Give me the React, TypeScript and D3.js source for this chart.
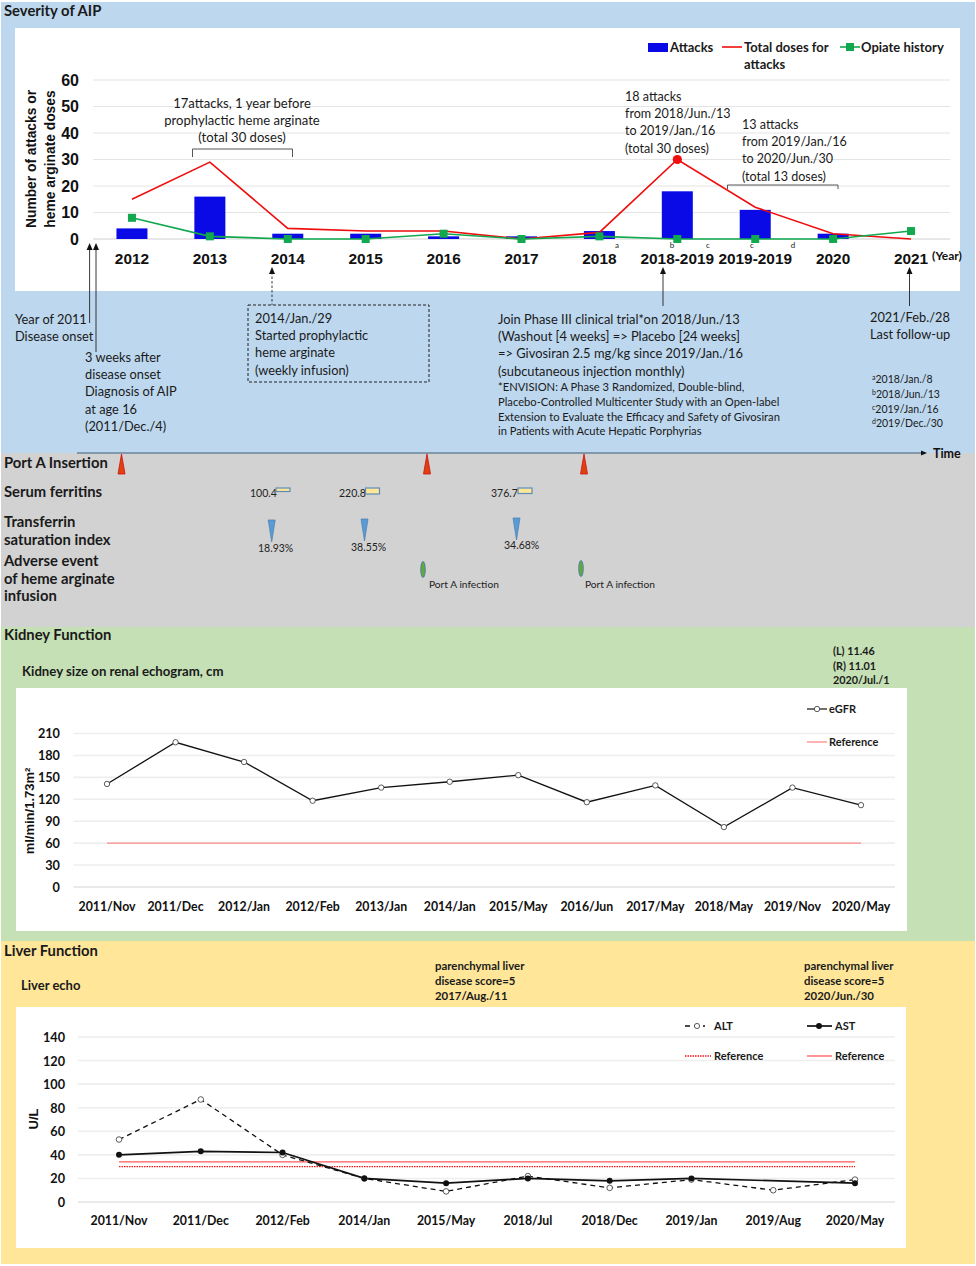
import React from "react";
import * as d3 from "d3";

const years = ["2012","2013","2014","2015","2016","2017","2018","2018-2019","2019-2019","2020","2021"];
const attacks = [4,16,2,2,1,1,3,18,11,2,0];
const totalDoses = [15,29,4,3,3,0,2.5,30,12,2,0];
const opiate = [8,1,0,0,2,0,1,0,0,0,3];
const severityTicks = [0,10,20,30,40,50,60];

const kidneyDates = ["2011/Nov","2011/Dec","2012/Jan","2012/Feb","2013/Jan","2014/Jan","2015/May","2016/Jun","2017/May","2018/May","2019/Nov","2020/May"];
const egfr = [141,198,171,118,136,144,153,116,139,82,136,112];
const egfrRef = [60,60,60,60,60,60,60,60,60,60,60,60];
const kidneyTicks = [0,30,60,90,120,150,180,210];

const liverDates = ["2011/Nov","2011/Dec","2012/Feb","2014/Jan","2015/May","2018/Jul","2018/Dec","2019/Jan","2019/Aug","2020/May"];
const alt = [53,87,40,20,9,22,12,19,10,19];
const ast: (number|null)[] = [40,43,42,20,16,20,18,20,null,16];
const altRef = [30,30,30,30,30,30,30,30,30,30];
const astRef = [34,34,34,34,34,34,34,34,34,34];
const liverTicks = [0,20,40,60,80,100,120,140];

const body = "Lato, 'Noto Sans', sans-serif";
const arial = "'Liberation Sans', Arial, sans-serif";

function Lines({x,y,lines,size=13.5,dy=17.2,weight=400,anchor="start",fill="#1a1a1a",sx=1}:{x:number;y:number;lines:string[];size?:number;dy?:number;weight?:number;anchor?:string;fill?:string;sx?:number}) {
  return <g fontFamily={body} fontSize={size} fontWeight={weight} fill={fill} textAnchor={anchor as any} transform={`translate(${x},0) scale(${sx},1)`}>
    {lines.map((l,i)=><text key={i} x={0} y={y+i*dy}>{l}</text>)}
  </g>;
}

function Arrow({x,y1,y2,dash}:{x:number;y1:number;y2:number;dash?:string}) {
  return <g>
    <line x1={x} x2={x} y1={y1+5} y2={y2} stroke="#222" strokeWidth={0.9} strokeDasharray={dash}/>
    <path d={`M${x},${y1} L${x-3},${y1+7} L${x+3},${y1+7} Z`} fill="#111"/>
  </g>;
}

function Severity() {
  const x = d3.scaleBand<string>().domain(years).range([93,950]);
  const y = d3.scaleLinear().domain([0,60]).range([239,80]);
  const cx = (i:number)=>x(years[i])!+x.bandwidth()/2;
  const line = d3.line<number>().x((_,i)=>cx(i)).y(d=>y(d));
  return <g>
    {severityTicks.map(t=><g key={t}>
      <line x1={93} x2={950} y1={y(t)} y2={y(t)} stroke={t===0?"#cfcfcf":"#e4e4e4"} strokeWidth={1}/>
      <text x={79} y={y(t)+5.5} textAnchor="end" fontFamily={arial} fontWeight={700} fontSize={16} fill="#111">{t}</text>
    </g>)}
    {attacks.map((a,i)=>a>0&&<rect key={i} x={cx(i)-15.5} width={31} y={y(a)} height={y(0)-y(a)} fill="#0a0ae6"/>)}
    <path d={line(totalDoses)!} fill="none" stroke="#f00d0d" strokeWidth={1.6}/>
    <path d={line(opiate)!} fill="none" stroke="#11a84f" strokeWidth={1.6}/>
    {opiate.map((o,i)=><rect key={i} x={cx(i)-4} y={y(o)-4} width={8} height={8} fill="#11a84f"/>)}
    <circle cx={cx(7)} cy={y(totalDoses[7])} r={4.6} fill="#f00d0d"/>
    {years.map((c,i)=><text key={c} x={cx(i)} y={264} textAnchor="middle" fontFamily={arial} fontWeight={700} fontSize={15.4} fill="#111">{c}</text>)}
    <text x={932} y={260} fontFamily={body} fontWeight={700} fontSize={12} fill="#111">(Year)</text>
    <g fontFamily={body} fontSize={8} fill="#222">
      {([["a",617],["b",672],["c",708],["c",752],["d",793]] as [string,number][]).map(([t,px],i)=><text key={i} x={px} y={248} textAnchor="middle">{t}</text>)}
    </g>
    <g transform="translate(32,159) rotate(-90)" fontFamily={arial} fontWeight={700} fontSize={13.8} textAnchor="middle" fill="#111">
      <text x={0} y={4}>Number of attacks or</text>
      <text x={0} y={23}>heme arginate doses</text>
    </g>
    <rect x={648} y={43} width={20} height={9} fill="#0a0ae6"/>
    <line x1={722} x2={742} y1={47} y2={47} stroke="#f00d0d" strokeWidth={1.6}/>
    <line x1={840} x2={860} y1={47} y2={47} stroke="#11a84f" strokeWidth={1.6}/>
    <rect x={846} y={43} width={8} height={8} fill="#11a84f"/>
    <Lines x={670} y={52} lines={["Attacks"]} weight={700} size={13}/>
    <Lines x={744} y={52} lines={["Total doses for","attacks"]} weight={700} size={13} dy={16.5}/>
    <Lines x={861} y={52} lines={["Opiate history"]} weight={700} size={13}/>
    <Lines x={242} y={108} anchor="middle" sx={0.97} lines={["17attacks, 1 year before","prophylactic heme arginate","(total 30 doses)"]}/>
    <path d="M192.5,157 V149 H292.5 V157" fill="none" stroke="#555" strokeWidth={1}/>
    <Lines x={625} y={101} sx={0.93} lines={["18 attacks","from 2018/Jun./13","to 2019/Jan./16","(total 30 doses)"]}/>
    <Lines x={742} y={129} sx={0.93} lines={["13 attacks","from 2019/Jan./16","to 2020/Jun./30","(total 13 doses)"]}/>
    <path d="M727.5,189 V185 H838 V189" fill="none" stroke="#555" strokeWidth={1}/>
  </g>;
}

function Timeline() {
  const ports = [121.5,427,584];
  const ferritin:[string,number,number,number][] = [["100.4",250,276,3.5],["220.8",339,365.5,6],["376.7",491,518,5.5]];
  const tsat:[string,number,number,number,number][] = [["18.93%",258,271.7,520,552],["38.55%",351,364.5,519,551],["34.68%",504,516.5,518,549]];
  const ae:[number,number,number][] = [[423,569.5,429],[581,568.5,585]];
  return <g>
    <Arrow x={89.6} y1={243} y2={323}/>
    <Arrow x={96} y1={243} y2={352}/>
    <Arrow x={272} y1={267} y2={305} dash="2.5 2"/>
    <Arrow x={663} y1={267} y2={306}/>
    <Arrow x={909.5} y1={267} y2={306}/>
    <Lines x={15} y={324} sx={0.95} lines={["Year of 2011","Disease onset"]}/>
    <Lines x={85} y={362} sx={0.95} lines={["3 weeks after","disease onset","Diagnosis of AIP","at age 16","(2011/Dec./4)"]}/>
    <rect x={248} y={305} width={181} height={77} fill="none" stroke="#222" strokeWidth={1} strokeDasharray="3 2"/>
    <Lines x={255} y={323} sx={0.95} lines={["2014/Jan./29","Started prophylactic","heme arginate","(weekly infusion)"]}/>
    <Lines x={498} y={324} sx={0.955} lines={["Join Phase III clinical trial*on 2018/Jun./13","(Washout [4 weeks] => Placebo [24 weeks]","=> Givosiran  2.5 mg/kg since 2019/Jan./16","(subcutaneous injection monthly)"]}/>
    <Lines x={498} y={391} size={11.2} dy={14.8} lines={["*ENVISION: A Phase 3 Randomized, Double-blind,","Placebo-Controlled Multicenter Study with an Open-label","Extension to Evaluate the Efficacy and Safety of Givosiran","in Patients with Acute Hepatic Porphyrias"]}/>
    <Lines x={870} y={322} sx={0.95} lines={["2021/Feb./28","Last follow-up"]}/>
    <g fontFamily={body} fontSize={10.5} fill="#1a1a1a">
      {([["a","2018/Jan./8",383],["b","2018/Jun./13",398],["c","2019/Jan./16",413],["d","2019/Dec./30",427]] as [string,string,number][]).map(([s,t,py])=>
        <text key={s} x={872} y={py}><tspan fontSize={7} dy={-3}>{s}</tspan><tspan dy={3}>{t}</tspan></text>)}
    </g>
    <line x1={77} x2={921} y1={453} y2={453} stroke="#3c5a78" strokeWidth={1.2}/>
    <path d="M921,450.5 L927,453 L921,455.5 Z" fill="#111"/>
    <text x={933} y={458} fontFamily={body} fontWeight={700} fontSize={12.5} fill="#111">Time</text>
    {ports.map(p=><path key={p} d={`M${p},454 L${p+3.5},474 L${p-3.5},474 Z`} fill="#e0420f" stroke="#d00f0f" strokeWidth={0.8}/>)}
    {ferritin.map(([t,tx,bx,h])=><g key={t}>
      <text x={tx} y={497} fontFamily={body} fontSize={10.5} fill="#222">{t}</text>
      <rect x={bx} y={488} width={14} height={h} fill="#ffe699" stroke="#5b8db8" strokeWidth={1.2}/>
    </g>)}
    {tsat.map(([t,tx,mx,top,by])=><g key={t}>
      <path d={`M${mx-3.5},${top} L${mx+3.5},${top} L${mx},${top+22} Z`} fill="#5b9bd5" stroke="#4a7eae" strokeWidth={0.7}/>
      <text x={tx} y={by} fontFamily={body} fontSize={10.5} fill="#222">{t}</text>
    </g>)}
    {ae.map(([ex,ey,tx])=><g key={ex}>
      <ellipse cx={ex} cy={ey} rx={2.3} ry={8} fill="#63a83c" stroke="#4a7eae" strokeWidth={0.9}/>
      <text x={tx} y={588} fontFamily={body} fontSize={10.2} fill="#222">Port A infection</text>
    </g>)}
    <Lines x={4} y={468} lines={["Port A Insertion"]} weight={700} size={14.8}/>
    <Lines x={4} y={497} lines={["Serum ferritins"]} weight={700} size={14.8}/>
    <Lines x={4} y={527} lines={["Transferrin","saturation index"]} weight={700} size={14.8} dy={17.5}/>
    <Lines x={4} y={566} lines={["Adverse event","of heme arginate","infusion"]} weight={700} size={14.8} dy={17.7}/>
  </g>;
}

function Grid({y,ticks,x1,x2,labelX}:{y:d3.ScaleLinear<number,number>;ticks:number[];x1:number;x2:number;labelX:number}) {
  return <g>
    {ticks.map(t=><g key={t}>
      <line x1={x1} x2={x2} y1={y(t)} y2={y(t)} stroke={t===0?"#d4d4d4":"#eeeeee"} strokeWidth={t===0?1:1.6}/>
      <text x={labelX} y={y(t)+5} textAnchor="end" fontFamily={body} fontWeight={700} fontSize={13.5} fill="#111" transform={`translate(${labelX*0.06},0) scale(0.94,1)`}>{t}</text>
    </g>)}
  </g>;
}

function Kidney() {
  const x = d3.scalePoint<string>().domain(kidneyDates).range([107,861]);
  const y = d3.scaleLinear().domain([0,210]).range([887,733.5]);
  const line = d3.line<number>().x((_,i)=>x(kidneyDates[i])!).y(d=>y(d));
  return <g>
    <Grid y={y} ticks={kidneyTicks} x1={73.5} x2={895} labelX={60}/>
    <path d={line(egfrRef)!} fill="none" stroke="#ff8a8a" strokeWidth={1.3}/>
    <path d={line(egfr)!} fill="none" stroke="#111" strokeWidth={1.3}/>
    {egfr.map((v,i)=><circle key={i} cx={x(kidneyDates[i])} cy={y(v)} r={2.7} fill="#fff" stroke="#333" strokeWidth={0.8}/>)}
    {kidneyDates.map(d=><text key={d} transform={`translate(${x(d)},911) scale(0.95,1)`} textAnchor="middle" fontFamily={body} fontWeight={700} fontSize={13} fill="#111">{d}</text>)}
    <text transform="translate(34,811) rotate(-90)" textAnchor="middle" fontFamily={arial} fontWeight={700} fontSize={13} fill="#111">ml/min/1.73m²</text>
    <line x1={807} x2={827} y1={709} y2={709} stroke="#222" strokeWidth={1.3}/>
    <circle cx={817} cy={709} r={2.7} fill="#fff" stroke="#333" strokeWidth={0.8}/>
    <Lines x={829} y={713} lines={["eGFR"]} weight={700} size={11}/>
    <line x1={807} x2={827} y1={742} y2={742} stroke="#ff8a8a" strokeWidth={1.3}/>
    <Lines x={829} y={746} lines={["Reference"]} weight={700} size={11}/>
    <Lines x={22} y={676} lines={["Kidney size on renal echogram, cm"]} weight={700} size={13.2}/>
    <Lines x={833} y={655} lines={["(L) 11.46","(R) 11.01","2020/Jul./1"]} weight={700} size={10.8} dy={14.7}/>
  </g>;
}

function Liver() {
  const x = d3.scalePoint<string>().domain(liverDates).range([119,855]);
  const y = d3.scaleLinear().domain([0,140]).range([1202,1037]);
  const line = d3.line<number>().x((_,i)=>x(liverDates[i])!).y(d=>y(d));
  const astData = liverDates.map((d,i)=>({d,v:ast[i]})).filter(p=>p.v!==null);
  const astPath = d3.line<{d:string;v:number|null}>().x(p=>x(p.d)!).y(p=>y(p.v as number))(astData)!;
  return <g>
    <Grid y={y} ticks={liverTicks} x1={78} x2={895} labelX={65}/>
    <path d={line(altRef)!} fill="none" stroke="#f01818" strokeWidth={1.3} strokeDasharray="1.5 1"/>
    <path d={line(astRef)!} fill="none" stroke="#ff5a5a" strokeWidth={1.3}/>
    <path d={line(alt)!} fill="none" stroke="#111" strokeWidth={1.3} strokeDasharray="5 4"/>
    <path d={astPath} fill="none" stroke="#111" strokeWidth={1.7}/>
    {alt.map((v,i)=><circle key={i} cx={x(liverDates[i])} cy={y(v)} r={2.8} fill="#fff" stroke="#333" strokeWidth={0.8}/>)}
    {astData.map(p=><circle key={p.d} cx={x(p.d)} cy={y(p.v as number)} r={3} fill="#111"/>)}
    {liverDates.map(d=><text key={d} transform={`translate(${x(d)},1225) scale(0.95,1)`} textAnchor="middle" fontFamily={body} fontWeight={700} fontSize={13} fill="#111">{d}</text>)}
    <text transform="translate(38,1119) rotate(-90)" textAnchor="middle" fontFamily={arial} fontWeight={700} fontSize={13} fill="#111">U/L</text>
    <line x1={685} x2={705} y1={1026} y2={1026} stroke="#111" strokeWidth={1.3} strokeDasharray="5 4"/>
    <circle cx={697} cy={1026} r={2.6} fill="#fff" stroke="#333" strokeWidth={0.8}/>
    <Lines x={714} y={1030} lines={["ALT"]} weight={700} size={11}/>
    <line x1={807} x2={832} y1={1026} y2={1026} stroke="#111" strokeWidth={1.7}/>
    <circle cx={819} cy={1026} r={3} fill="#111"/>
    <Lines x={835} y={1030} lines={["AST"]} weight={700} size={11}/>
    <line x1={685} x2={711} y1={1056} y2={1056} stroke="#f01818" strokeWidth={1.3} strokeDasharray="1.5 1"/>
    <Lines x={714} y={1060} lines={["Reference"]} weight={700} size={11}/>
    <line x1={807} x2={832} y1={1056} y2={1056} stroke="#ff5a5a" strokeWidth={1.3}/>
    <Lines x={835} y={1060} lines={["Reference"]} weight={700} size={11}/>
    <Lines x={21} y={990} lines={["Liver echo"]} weight={700} size={13}/>
    <Lines x={435} y={970} lines={["parenchymal liver","disease score=5","2017/Aug./11"]} weight={700} size={11.4} dy={14.8}/>
    <Lines x={804} y={970} lines={["parenchymal liver","disease score=5","2020/Jun./30"]} weight={700} size={11.4} dy={14.8}/>
  </g>;
}

export default function App() {
  return <svg width={976} height={1266} viewBox="0 0 976 1266" style={{position:"absolute",left:0,top:0,background:"#fff"}}>
    <rect x={1} y={2} width={974} height={451} fill="#bdd7ee"/>
    <rect x={1} y={453} width={974} height={174} fill="#d2d2d2"/>
    <rect x={1} y={627} width={974} height={314} fill="#c5e0b4"/>
    <rect x={1} y={941} width={974} height={323} fill="#ffe699"/>
    <rect x={15} y={28} width={945} height={263} fill="#fff"/>
    <rect x={16} y={688} width={891} height={243} fill="#fff"/>
    <rect x={16} y={1007} width={890} height={241} fill="#fff"/>
    <Lines x={4} y={16} lines={["Severity of AIP"]} weight={700} size={14.8}/>
    <Lines x={4} y={640} lines={["Kidney Function"]} weight={700} size={14.8}/>
    <Lines x={4} y={956} lines={["Liver Function"]} weight={700} size={14.8}/>
    <Severity/>
    <Timeline/>
    <Kidney/>
    <Liver/>
  </svg>;
}
